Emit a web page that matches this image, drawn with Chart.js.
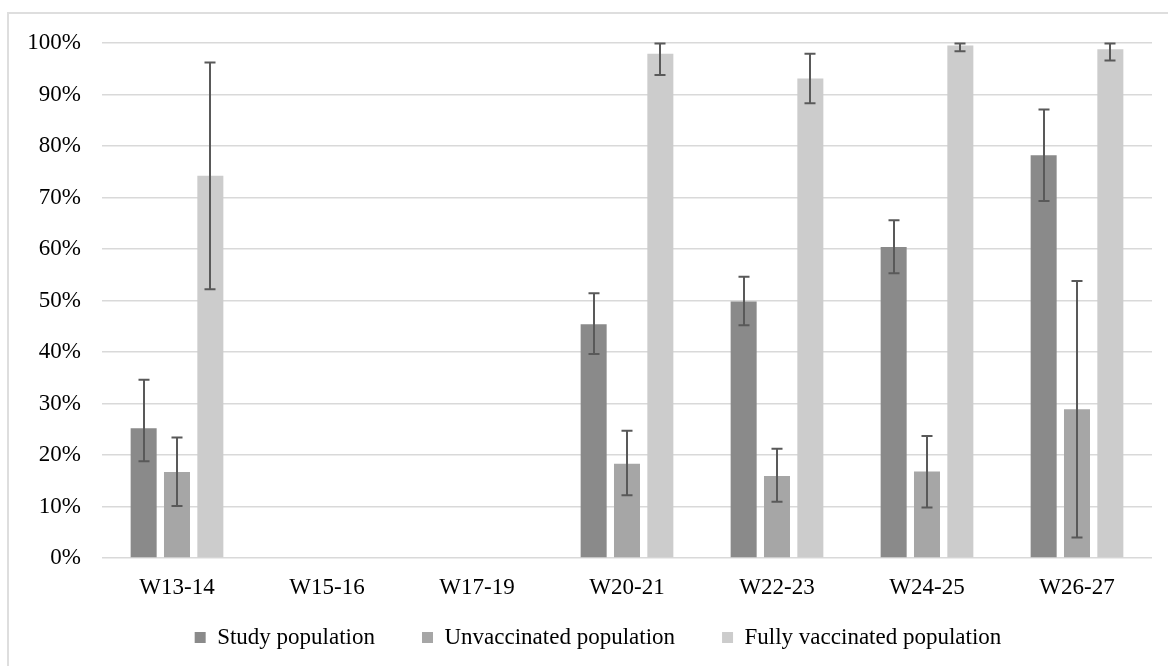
<!DOCTYPE html>
<html>
<head>
<meta charset="utf-8">
<script src="https://cdn.jsdelivr.net/npm/chart.js@4"></script>
<style>
  html, body { margin: 0; padding: 0; background: #fff; overflow: hidden; }
  #frame { position: absolute; left: 7px; top: 12px; width: 1200px; height: 700px; border-left: 2px solid #dedede; border-top: 2px solid #dedede; }
  #wrap { position: absolute; left: 0; top: 0; width: 1168px; height: 666px; }
</style>
</head>
<body>
<div id="frame"></div>
<div id="wrap"><canvas id="chart"></canvas></div>
<script>
// Weeks
const weeks = ['W13-14', 'W15-16', 'W17-19', 'W20-21', 'W22-23', 'W24-25', 'W26-27'];

// Percentages per group (null = no data)
const studyPop = [25.2, null, null, 45.4, 49.8, 60.4, 78.2];
const unvaccinated = [16.7, null, null, 18.3, 15.9, 16.8, 28.9];
const fullyVaccinated = [74.2, null, null, 97.9, 93.1, 99.5, 98.8];

// 95% CI bounds
const studyLow = [18.8, null, null, 39.6, 45.2, 55.3, 69.3];
const studyHigh = [34.6, null, null, 51.4, 54.6, 65.6, 87.1];
const unvaccLow = [10.1, null, null, 12.2, 10.9, 9.8, 4.0];
const unvaccHigh = [23.4, null, null, 24.7, 21.2, 23.7, 53.8];
const fullLow = [52.2, null, null, 93.8, 88.3, 98.4, 96.6];
const fullHigh = [96.2, null, null, 99.9, 97.9, 99.9, 99.9];

const yTicks = [0, 10, 20, 30, 40, 50, 60, 70, 80, 90, 100];

const serif = "'Liberation Serif', 'Times New Roman', serif";

// draw error bars with caps on top of the bars
const errorBars = {
    id: 'errorBars',
    afterDatasetsDraw(chart) {
        const ctx = chart.ctx;
        const y = chart.scales.y;
        ctx.save();
        ctx.strokeStyle = '#595959';
        ctx.lineWidth = 2;
        chart.data.datasets.forEach((ds, i) => {
            const meta = chart.getDatasetMeta(i);
            meta.data.forEach((bar, j) => {
                if (ds.data[j] == null) return;
                const x = Math.round(bar.x);
                const top = y.getPixelForValue(ds.errHigh[j]);
                const bottom = y.getPixelForValue(ds.errLow[j]);
                ctx.beginPath();
                ctx.moveTo(x, top); ctx.lineTo(x, bottom);
                ctx.moveTo(x - 5.5, top); ctx.lineTo(x + 5.5, top);
                ctx.moveTo(x - 5.5, bottom); ctx.lineTo(x + 5.5, bottom);
                ctx.stroke();
            });
        });
        ctx.restore();
    }
};

// move the legend up closer to the axis labels and centre it like the original
const legendShift = {
    id: 'legendShift',
    afterLayout(chart) {
        const lg = chart.legend;
        lg.top -= 29;
        lg.left += 22; lg.right += 22;
    }
};

const ctx = document.getElementById('chart').getContext('2d');
new Chart(ctx, {
    type: 'bar',
    data: {
        labels: weeks,
        datasets: [
            { label: 'Study population', data: studyPop, errLow: studyLow, errHigh: studyHigh, backgroundColor: '#8a8a8a' },
            { label: 'Unvaccinated population', data: unvaccinated, errLow: unvaccLow, errHigh: unvaccHigh, backgroundColor: '#a6a6a6' },
            { label: 'Fully vaccinated population', data: fullyVaccinated, errLow: fullLow, errHigh: fullHigh, backgroundColor: '#cccccc' }
        ]
    },
    options: {
        responsive: true,
        maintainAspectRatio: false,
        animation: false,
        categoryPercentage: 0.667,
        barPercentage: 0.78,
        layout: { padding: { left: 0, right: 16, top: 43, bottom: 0 } },
        plugins: {
            tooltip: { enabled: false },
            legend: {
                position: 'bottom',
                maxHeight: 58,
                labels: {
                    boxWidth: 11,
                    boxHeight: 11,
                    padding: 47,
                    color: '#000',
                    font: { family: serif, size: 23 }
                }
            }
        },
        scales: {
            x: {
                grid: { display: false },
                border: { display: false },
                ticks: { color: '#000', padding: 8, font: { family: serif, size: 23 } },
                afterFit(scale) { scale.height = 50; }
            },
            y: {
                min: 0,
                max: 100,
                afterBuildTicks(scale) { scale.ticks = yTicks.map(v => ({ value: v })); },
                grid: { color: '#d9d9d9', lineWidth: 1.5, drawTicks: false },
                border: { display: false },
                ticks: {
                    color: '#000',
                    padding: 21,
                    font: { family: serif, size: 23 },
                    callback: v => v + '%'
                },
                afterFit(scale) { scale.width = 102; }
            }
        }
    },
    plugins: [errorBars, legendShift]
});
</script>
</body>
</html>
